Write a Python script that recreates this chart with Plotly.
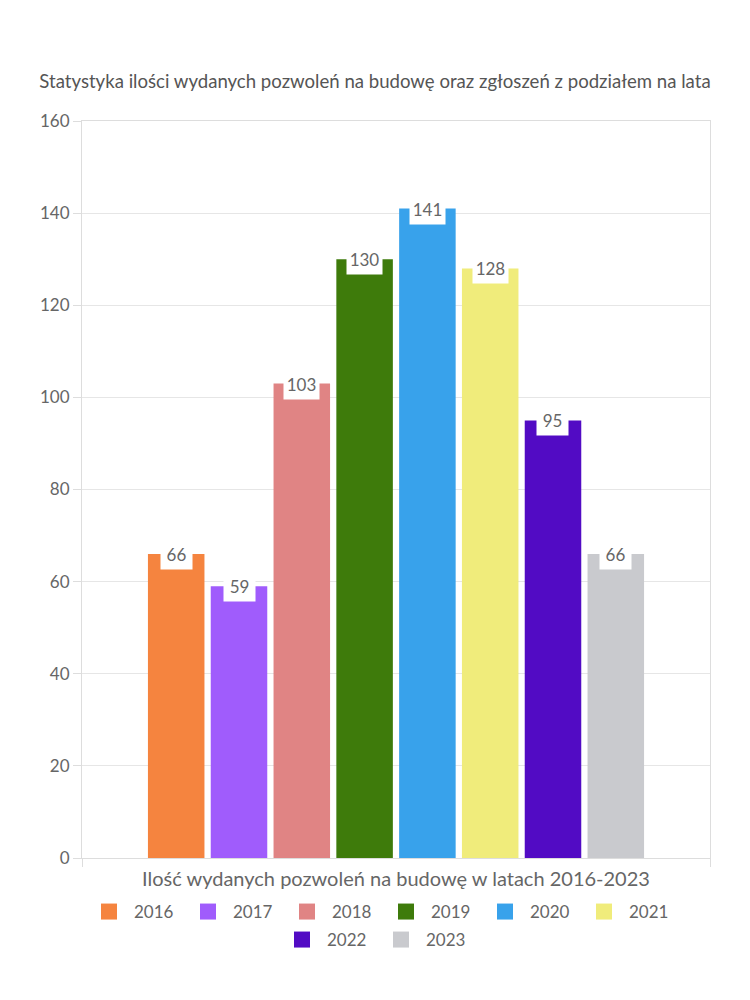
import plotly.graph_objects as go

years = ["2016", "2017", "2018", "2019", "2020", "2021", "2022", "2023"]
values = [66, 59, 103, 130, 141, 128, 95, 66]
colors = ["#F5843F", "#A05CFC", "#E08484", "#3E7B0B", "#38A2EB", "#F0EC7B", "#520BC4", "#C9CACE"]
category = ["Ilość"]

title_text = "Statystyka ilości wydanych pozwoleń na budowę oraz zgłoszeń z podziałem na lata"
xaxis_title = "Ilość wydanych pozwoleń na budowę w latach 2016-2023"

FONT = "Lato"
W, H = 742, 992          # page body has an 8px margin
PH = 737.0
PW = 628.0
fig = go.Figure()
for y, v, c in zip(years, values, colors):
    fig.add_trace(go.Bar(
        x=category, y=[v], name=y, marker=dict(color=c, line=dict(width=0)),
        offsetgroup=y, showlegend=False,
    ))

for i, (y, c) in enumerate(zip(years, colors)):
    fig.add_trace(go.Scatter(
        x=[None], y=[None], mode="markers", name=y,
        marker=dict(color=c, size=16, symbol="square"),
        legend="legend" if i < 6 else "legend2",
    ))

annotations = []
n = len(years)
for i, v in enumerate(values):
    annotations.append(dict(
        x=0, y=v, xref="x", yref="y", text=str(v), showarrow=False,
        xshift=(i - (n - 1) / 2) * 62.7, yshift=0,
        bgcolor="white", borderpad=0, width=31 if v < 100 else 35, height=30,
        font=dict(family=FONT, size=17, color="#666666"),
        yanchor="middle", xanchor="center",
    ))

leg_font = dict(family=FONT, size=17, color="#666666")
fig.update_layout(
    width=W, height=H,
    margin=dict(l=74, r=40, t=113, b=142, autoexpand=False),
    paper_bgcolor="white", plot_bgcolor="white",
    barmode="group", bargap=0.2, bargroupgap=0.1,
    title=dict(text=title_text, x=367 / W, xanchor="center", y=1 - 73 / H, yanchor="middle",
               font=dict(family=FONT, size=18.6, color="#555555")),
    font=dict(family=FONT, size=16, color="#666666"),
    showlegend=True,
    legend=dict(orientation="h", x=(84 - 82) / PW, xanchor="left", y=-(912 - 858) / PH, yanchor="middle",
                font=leg_font, traceorder="normal", itemwidth=40, entrywidth=44),
    legend2=dict(orientation="h", x=(277 - 82) / PW, xanchor="left", y=-(940 - 858) / PH, yanchor="middle",
                 font=leg_font, traceorder="normal", itemwidth=40, entrywidth=44),
    annotations=annotations,
)
fig.update_xaxes(
    type="category", tickson="boundaries", ticks="outside", ticklen=8,
    tickcolor="#DDDDDD", showticklabels=False, automargin=False,
    showline=True, linecolor="#DDDDDD", mirror=True,
    title=dict(text=xaxis_title, standoff=13, font=dict(family=FONT, size=20, color="#666666")),
)
fig.update_yaxes(
    range=[0, 160], dtick=20, showgrid=True, gridcolor="#E6E6E6", automargin=False,
    ticks="outside", ticklen=8, tickcolor="#DDDDDD",
    showline=True, linecolor="#DDDDDD", mirror=True, zeroline=False,
    tickfont=dict(family=FONT, size=17, color="#666666"),
)

fig.write_html("out.html")
